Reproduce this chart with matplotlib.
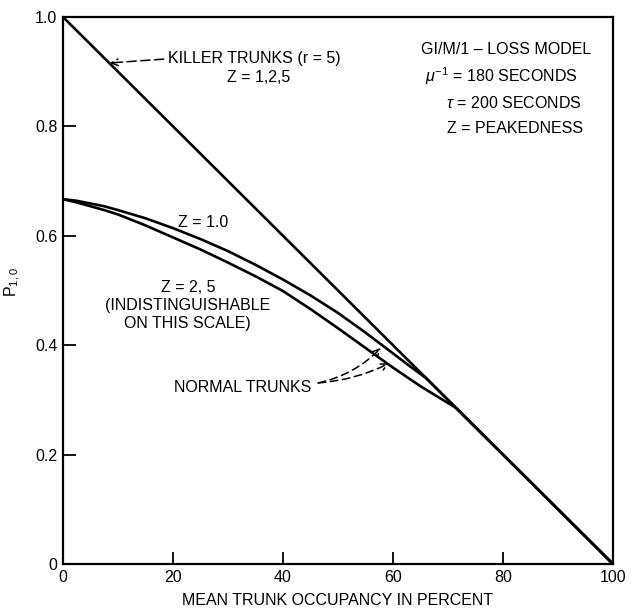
import matplotlib
matplotlib.use("Agg")
import matplotlib.pyplot as plt

plt.rcParams['font.family'] = ['Liberation Sans', 'DejaVu Sans']
plt.rcParams['mathtext.fontset'] = 'custom'
plt.rcParams['mathtext.rm'] = 'Liberation Sans'
plt.rcParams['mathtext.it'] = 'Liberation Sans:italic'
plt.rcParams['mathtext.bf'] = 'Liberation Sans:bold'

# ---- data ----
killer_x = [0, 100]
killer_y = [1.0, 0.0]

z1_x = [0, 2.5, 5, 7.5, 10, 15, 20, 25, 30, 35, 40, 45, 50, 55, 60, 63, 66, 100]
z1_y = [0.667, 0.664, 0.659, 0.654, 0.647, 0.632, 0.614, 0.594, 0.572, 0.547,
        0.520, 0.491, 0.459, 0.423, 0.385, 0.362, 0.340, 0.0]

z25_x = [0, 2.5, 5, 7.5, 10, 15, 20, 25, 30, 35, 40, 45, 50, 55, 60, 65, 71.5, 100]
z25_y = [0.667, 0.661, 0.654, 0.647, 0.639, 0.619, 0.597, 0.575, 0.551, 0.526,
         0.499, 0.466, 0.431, 0.395, 0.359, 0.325, 0.285, 0.0]

xticks = [0, 20, 40, 60, 80, 100]
xtick_labels = ['0', '20', '40', '60', '80', '100']
yticks = [0, 0.2, 0.4, 0.6, 0.8, 1.0]
ytick_labels = ['0', '0.2', '0.4', '0.6', '0.8', '1.0']

fig = plt.figure(figsize=(6.32, 6.11), dpi=100)
ax = fig.add_axes([63/632, 47/611, 550/632, 547/611])

lw = 1.9
ax.plot(killer_x, killer_y, color='black', lw=lw, solid_capstyle='butt')
ax.plot(z1_x, z1_y, color='black', lw=lw, solid_joinstyle='round')
ax.plot(z25_x, z25_y, color='black', lw=lw, solid_joinstyle='round')

ax.set_xlim(0, 100)
ax.set_ylim(0, 1.0)
ax.set_xticks(xticks)
ax.set_xticklabels(xtick_labels)
ax.set_yticks(yticks)
ax.set_yticklabels(ytick_labels)
ax.tick_params(direction='in', length=9, width=1.3, labelsize=11.5, pad=4,
               colors='black')
for s in ax.spines.values():
    s.set_linewidth(1.6)

fs = 11.5
ax.set_xlabel('MEAN TRUNK OCCUPANCY IN PERCENT', fontsize=fs, labelpad=6)
ax.text(-0.092, 0.516, r'P$_{1,0}$', transform=ax.transAxes, rotation=90,
        ha='center', va='center', fontsize=fs)

# killer trunks label + arrow
ax.text(19.1, 0.924, 'KILLER TRUNKS (r = 5)', ha='left', va='center', fontsize=fs)
ax.text(35.5, 0.889, 'Z = 1,2,5', ha='center', va='center', fontsize=fs)
ax.annotate('', xy=(8.5, 0.916), xytext=(18.3, 0.923),
            arrowprops=dict(arrowstyle='->', lw=1.1, linestyle=(0, (6, 3)),
                            color='black', shrinkA=0, shrinkB=0,
                            mutation_scale=12))

# model description
ax.text(80.6, 0.940, 'GI/M/1 – LOSS MODEL', ha='center', va='center', fontsize=fs)
ax.text(79.7, 0.891, r'$\mu^{-1}$ = 180 SECONDS', ha='center', va='center', fontsize=fs)
ax.text(82.0, 0.843, r'$\tau$ = 200 SECONDS', ha='center', va='center', fontsize=fs)
ax.text(82.2, 0.796, 'Z = PEAKEDNESS', ha='center', va='center', fontsize=fs)

# curve labels
ax.text(25.5, 0.624, 'Z = 1.0', ha='center', va='center', fontsize=fs)
ax.text(22.7, 0.505, 'Z = 2, 5', ha='center', va='center', fontsize=fs)
ax.text(22.7, 0.472, '(INDISTINGUISHABLE', ha='center', va='center', fontsize=fs)
ax.text(22.7, 0.440, 'ON THIS SCALE)', ha='center', va='center', fontsize=fs)

ax.text(32.7, 0.322, 'NORMAL TRUNKS', ha='center', va='center', fontsize=fs)
ax.annotate('', xy=(57.8, 0.395), xytext=(46.4, 0.331),
            arrowprops=dict(arrowstyle='->', lw=1.1, linestyle=(0, (5, 3)),
                            color='black', shrinkA=0, shrinkB=0,
                            connectionstyle='arc3,rad=0.15', mutation_scale=12))
ax.annotate('', xy=(59.3, 0.367), xytext=(46.4, 0.331),
            arrowprops=dict(arrowstyle='->', lw=1.1, linestyle=(0, (5, 3)),
                            color='black', shrinkA=0, shrinkB=0,
                            connectionstyle='arc3,rad=0.1', mutation_scale=12))

fig.savefig('out.png', dpi=100)
